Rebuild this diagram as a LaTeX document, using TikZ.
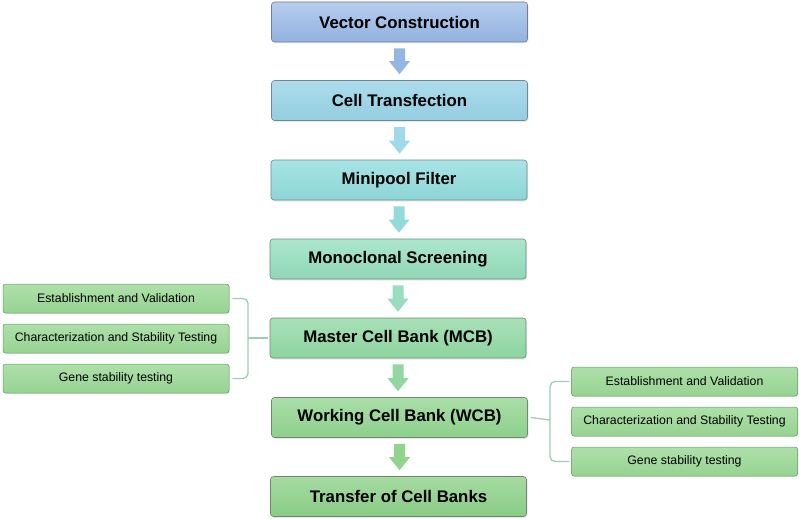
\documentclass[tikz,border=0pt]{standalone}
\usepackage{fontspec}
\setmainfont{Liberation Sans}
\usetikzlibrary{shadows,calc}
\definecolor{brc}{HTML}{9CCFB4}
\tikzset{
  mainbox/.style={draw=#1!70!black!60!gray, rounded corners=3pt, minimum width=256pt, minimum height=40pt,
     line width=0.6pt, font=\fontsize{16.8}{19}\selectfont\bfseries, inner sep=0pt,
     drop shadow={opacity=0.18, shadow xshift=1pt, shadow yshift=-1.5pt}},
  subbox/.style={draw=gray!80!green, rounded corners=2.5pt, minimum width=226pt, minimum height=29pt,
     line width=0.5pt, top color=sbt, bottom color=sbb, font=\fontsize{12.3}{14}\selectfont, inner sep=0pt,
     drop shadow={opacity=0.15, shadow xshift=1pt, shadow yshift=-1pt}},
  brace/.style={draw=brc, line width=1.3pt, rounded corners=5pt}
}
\newcommand{\blkarrow}[3]{%
  \fill[#3] let \p1=([yshift=-6pt]#1.south), \p2=([yshift=6pt]#2.north) in
    (\x1-5.5pt,\y1) -- (\x1+5.5pt,\y1) -- (\x1+5.5pt,\y2+13pt) -- (\x1+10.5pt,\y2+13pt)
    -- (\x1,\y2) -- (\x1-10.5pt,\y2+13pt) -- (\x1-5.5pt,\y2+13pt) -- cycle;}
\definecolor{sbt}{HTML}{AEE0A9}
\definecolor{sbb}{HTML}{97D392}
\definecolor{vct}{HTML}{B6CDEE}\definecolor{vcb}{HTML}{92B2E0}
\definecolor{ctt}{HTML}{ACDCEC}\definecolor{ctb}{HTML}{93CEE0}
\definecolor{mft}{HTML}{A8E4E6}\definecolor{mfb}{HTML}{8CD5D4}
\definecolor{mst}{HTML}{ACE6CF}\definecolor{msb}{HTML}{90D7B5}
\definecolor{mct}{HTML}{A8E0B8}\definecolor{mcb}{HTML}{8ED4A0}
\definecolor{wct}{HTML}{A9DEA8}\definecolor{wcb}{HTML}{8ED08C}
\definecolor{tct}{HTML}{A6DBA2}\definecolor{tcb}{HTML}{8ACB86}
\definecolor{a1}{HTML}{93B6E2}
\definecolor{a2}{HTML}{9FD9EA}
\definecolor{a3}{HTML}{92DBD8}
\definecolor{a4}{HTML}{98DDBE}
\definecolor{a5}{HTML}{92D7A2}
\definecolor{a6}{HTML}{92D48E}
\begin{document}
\begin{tikzpicture}[x=1pt,y=-1pt]
\useasboundingbox[fill=white] (0,0) rectangle (799,519);
\node[mainbox=vcb, top color=vct, bottom color=vcb] (n1) at (399.5,22) {Vector Construction};
\node[mainbox=ctb, top color=ctt, bottom color=ctb] (n2) at (399.5,100.5) {Cell Transfection};
\node[mainbox=mfb, top color=mft, bottom color=mfb] (n3) at (399,180) {Minipool Filter};
\node[mainbox=msb, top color=mst, bottom color=msb] (n4) at (398,259) {Monoclonal Screening};
\node[mainbox=mcb, top color=mct, bottom color=mcb] (n5) at (398,338) {Master Cell Bank (MCB)};
\node[mainbox=wcb, top color=wct, bottom color=wcb] (n6) at (399.5,417.5) {Working Cell Bank (WCB)};
\node[mainbox=tcb, top color=tct, bottom color=tcb] (n7) at (398.5,496.5) {Transfer of Cell Banks};

\blkarrow{n1}{n2}{a1}
\blkarrow{n2}{n3}{a2}
\blkarrow{n3}{n4}{a3}
\blkarrow{n4}{n5}{a4}
\blkarrow{n5}{n6}{a5}
\blkarrow{n6}{n7}{a6}

\node[subbox] (l1) at (116,298.5) {Establishment and Validation};
\node[subbox] (l2) at (116,338.5) {Characterization and Stability Testing};
\node[subbox] (l3) at (116,378.5) {Gene stability testing};

\node[subbox] (r1) at (684.5,381.5) {Establishment and Validation};
\node[subbox] (r2) at (684.5,421.5) {Characterization and Stability Testing};
\node[subbox] (r3) at (684.5,461.5) {Gene stability testing};

\coordinate (lb) at (248,338);
\coordinate (rb) at (550,420);
\draw[brace] ([xshift=3pt]l1.east) -| (lb) |- ([xshift=3pt]l3.east);
\draw[brace] (lb) -- ([xshift=-2pt]n5.west);
\draw[brace] ([xshift=-2pt]r1.west) -| (rb) |- ([xshift=-2pt]r3.west);
\draw[brace] ([xshift=3pt]n6.east) -- (rb);
\end{tikzpicture}
\end{document}
